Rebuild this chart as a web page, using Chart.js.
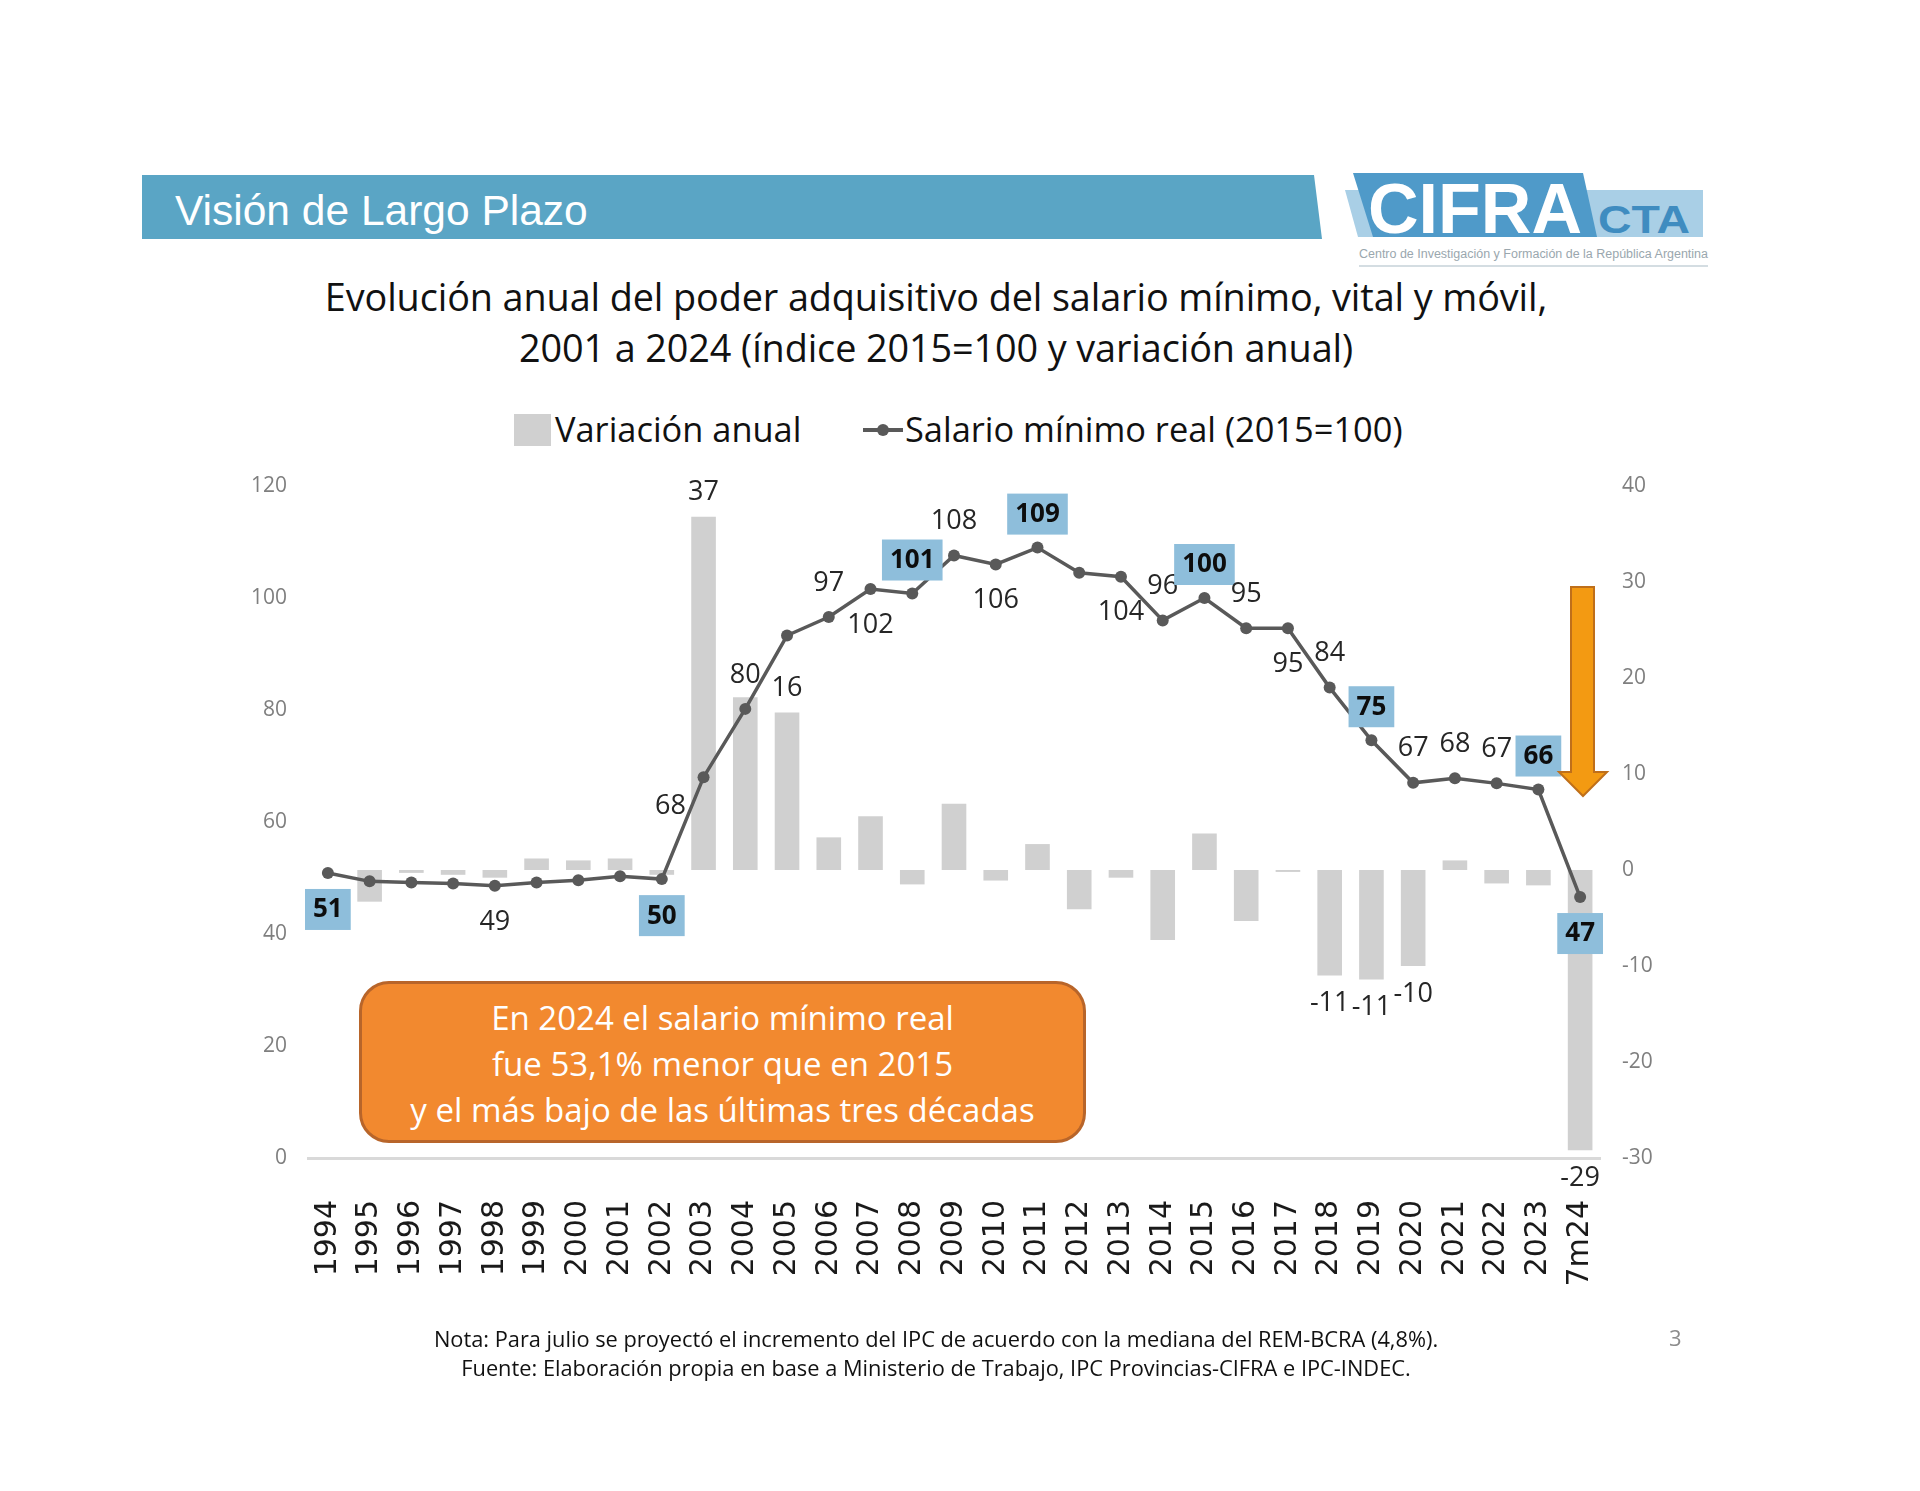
<!DOCTYPE html>
<html><head><meta charset="utf-8">
<script src="https://cdn.jsdelivr.net/npm/chart.js@4.4.1/dist/chart.umd.min.js"></script>
<style>
html,body{margin:0;padding:0;background:#fff;}
body{width:1920px;height:1491px;position:relative;overflow:hidden;font-family:'Open Sans',sans-serif;}
#c{position:absolute;left:0;top:0;}
.abs{position:absolute;}
#band{left:142px;top:175px;width:1180px;height:64px;background:#5AA5C5;clip-path:polygon(0 0,1172px 0,1180px 100%,0 100%);}
#bandText{left:175px;top:187px;font-family:'Liberation Sans',Arial,sans-serif;font-size:42.5px;color:#fff;line-height:48px;}
#title{left:0;top:271px;width:1872px;text-align:center;font-size:37.8px;line-height:51px;color:#111;letter-spacing:-0.1px;}
#legend{left:0;top:404px;width:1920px;height:52px;font-size:34.4px;color:#111;}
#notes{left:0;top:1324px;width:1872px;text-align:center;font-size:21.8px;line-height:29px;color:#111;}
#page{left:1669px;top:1322px;font-size:22px;color:#8c8c8c;}
#box{left:359px;top:981px;width:727px;height:162px;background:#F2892F;border:3px solid #B8652A;border-radius:30px;color:#fff;text-align:center;font-size:33px;line-height:46px;box-sizing:border-box;padding-top:11px;}
</style></head><body>
<div id="band" class="abs"></div>
<div id="bandText" class="abs">Visión de Largo Plazo</div>

<svg class="abs" style="left:1330px;top:165px" width="390" height="110" viewBox="1330 165 390 110">
  <polygon points="1345,190 1703,190 1703,237 1358,237" fill="#A9CFE6"/>
  <polygon points="1353,173 1583,173 1597,237 1373,237" fill="#4F9AC9"/>
  <text x="1368" y="233" font-family="Liberation Sans, Arial, sans-serif" font-weight="bold" font-size="70" fill="#fff" textLength="214" lengthAdjust="spacingAndGlyphs">CIFRA</text>
  <text x="1598" y="233" font-family="Liberation Sans, Arial, sans-serif" font-weight="bold" font-size="38" fill="#3F8CC0" textLength="92" lengthAdjust="spacingAndGlyphs">CTA</text>
  <text x="1359" y="258" font-family="Liberation Sans, Arial, sans-serif" font-size="12" fill="#9aa7ae" textLength="349" lengthAdjust="spacingAndGlyphs">Centro de Investigación y Formación de la República Argentina</text>
  <line x1="1359" y1="266" x2="1708" y2="266" stroke="#d4dde2" stroke-width="2"/>
</svg>

<div id="title" class="abs">Evolución anual del poder adquisitivo del salario mínimo, vital y móvil,<br>2001 a 2024 (índice 2015=100 y variación anual)</div>

<div id="legend" class="abs">
  <div class="abs" style="left:514px;top:10px;width:37px;height:32px;background:#D0D0D0;"></div>
  <div class="abs" style="left:555px;top:0px;line-height:50px;">Variación anual</div>
  <div class="abs" style="left:863px;top:24px;width:40px;height:4px;background:#595959;"></div>
  <div class="abs" style="left:877px;top:20px;width:12px;height:12px;border-radius:50%;background:#595959;"></div>
  <div class="abs" style="left:905px;top:0px;line-height:50px;">Salario mínimo real (2015=100)</div>
</div>

<canvas id="c" width="1920" height="1491" style="width:1920px;height:1491px"></canvas>

<div id="box" class="abs">En 2024 el salario mínimo real<br>fue 53,1% menor que en 2015<br>y el más bajo de las últimas tres décadas</div>

<svg class="abs" style="left:1550px;top:580px" width="70" height="230" viewBox="1550 580 70 230">
  <polygon points="1571,587 1594,587 1594,772 1607,772 1583,796 1559,772 1571,772" fill="#F39A12" stroke="#BF6F1A" stroke-width="2"/>
</svg>

<div id="notes" class="abs">Nota: Para julio se proyectó el incremento del IPC de acuerdo con la mediana del REM-BCRA (4,8%).<br>Fuente: Elaboración propia en base a Ministerio de Trabajo, IPC Provincias-CIFRA e IPC-INDEC.</div>
<div id="page" class="abs">3</div>

<script>
// ---- Data ----
const years = ['1994','1995','1996','1997','1998','1999','2000','2001','2002','2003','2004','2005','2006','2007','2008','2009','2010','2011','2012','2013','2014','2015','2016','2017','2018','2019','2020','2021','2022','2023','7m24'];
const salarioReal = [50.9,49.4,49.2,49.0,48.6,49.2,49.6,50.3,49.8,68.0,80.2,93.3,96.6,101.6,100.8,107.6,106.0,109.0,104.5,103.8,96.0,100.0,94.6,94.6,84.0,74.6,67.0,67.8,66.9,65.8,46.6];
const variacionAnual = [0,-3.3,-0.3,-0.5,-0.8,1.2,1.0,1.2,-0.5,36.8,18.0,16.4,3.4,5.6,-1.5,6.9,-1.1,2.7,-4.1,-0.8,-7.3,3.8,-5.3,-0.2,-11.0,-11.4,-10.0,1.0,-1.4,-1.6,-29.2];
const leftTicks = [0,20,40,60,80,100,120];
const rightTicks = [-30,-20,-10,0,10,20,30,40];

// ---- Label placement (style, not data) ----
const lineLabelPos = ['below',null,null,null,'below',null,null,null,'below','leftbelow','above',null,'above','below','above','above','below','above',null,'below','above','above','above','below','above','above','above','above','above','above','below'];
const lineLabelBoxed = [true,false,false,false,false,false,false,false,true,false,false,false,false,false,true,false,false,true,false,false,false,true,false,false,false,true,false,false,false,true,true];
const barLabelShow = [false,false,false,false,false,false,false,false,false,true,false,true,false,false,false,false,false,false,false,false,false,false,false,false,true,true,true,false,false,false,true];

const labelPlugin = {
  id: 'labels',
  afterDatasetsDraw(chart) {
    const ctx = chart.ctx;
    ctx.save();
    ctx.textAlign = 'center';
    ctx.textBaseline = 'middle';
    const bm = chart.getDatasetMeta(1);
    bm.data.forEach((el, i) => {
      if (!barLabelShow[i]) return;
      const v = variacionAnual[i];
      const y = v >= 0 ? el.y - 24 : el.y + 28;
      ctx.font = '27px "Open Sans"';
      ctx.fillStyle = '#262626';
      ctx.fillText(String(Math.round(v)), el.x, y);
    });
    const lm = chart.getDatasetMeta(0);
    lm.data.forEach((el, i) => {
      const p = lineLabelPos[i];
      if (!p) return;
      let dx = 0, dy = 0;
      if (p === 'above') dy = -34;
      else if (p === 'below') dy = 36;
      else if (p === 'leftbelow') { dx = -33; dy = 29; }
      const t = String(Math.round(salarioReal[i]));
      const x = el.x + dx, y = el.y + dy;
      if (lineLabelBoxed[i]) {
        ctx.font = 'bold 26px "Open Sans"';
        const w = ctx.measureText(t).width + 16;
        ctx.fillStyle = '#8EBEDB';
        ctx.fillRect(x - w / 2, y - 20, w, 41);
        ctx.fillStyle = '#0d0d0d';
        ctx.fillText(t, x, y + 1);
      } else {
        ctx.font = '27px "Open Sans"';
        ctx.fillStyle = '#262626';
        ctx.fillText(t, x, y);
      }
    });
    ctx.restore();
  }
};

new Chart(document.getElementById('c'), {
  type: 'bar',
  data: {
    labels: years,
    datasets: [
      {
        type: 'line', label: 'Salario mínimo real (2015=100)', data: salarioReal, yAxisID: 'y',
        borderColor: '#595959', backgroundColor: '#595959', borderWidth: 3.5,
        pointRadius: 6, pointBackgroundColor: '#595959', pointBorderWidth: 0, tension: 0, order: 0
      },
      {
        type: 'bar', label: 'Variación anual', data: variacionAnual, yAxisID: 'y2',
        backgroundColor: '#D0D0D0', barPercentage: 0.59, categoryPercentage: 1.0, order: 1
      }
    ]
  },
  options: {
    responsive: false, animation: false, devicePixelRatio: 1,
    layout: { padding: { left: 247, right: 259, top: 486, bottom: 183 } },
    plugins: { legend: { display: false }, tooltip: { enabled: false } },
    scales: {
      x: {
        offset: true,
        grid: { display: false, drawTicks: false },
        border: { display: false },
        ticks: { font: { family: 'DejaVu Sans', size: 30 }, color: '#1a1a1a', minRotation: 90, maxRotation: 90, padding: 42, autoSkip: false },
        afterFit(s) { s.height = 150; }
      },
      y: {
        position: 'left', min: 0, max: 120,
        afterBuildTicks(s) { s.ticks = leftTicks.map(v => ({ value: v })); },
        grid: { drawTicks: false, lineWidth: 3, color: c => (c.tick && c.tick.value === 0) ? '#D9D9D9' : 'rgba(0,0,0,0)' },
        border: { display: false },
        ticks: { font: { family: 'Open Sans', size: 21 }, color: '#7F7F7F', padding: 20 },
        afterFit(s) { s.width = 60; }
      },
      y2: {
        position: 'right', min: -30, max: 40,
        afterBuildTicks(s) { s.ticks = rightTicks.map(v => ({ value: v })); },
        grid: { display: false, drawTicks: false },
        border: { display: false },
        ticks: { font: { family: 'Open Sans', size: 21 }, color: '#7F7F7F', padding: 21 },
        afterFit(s) { s.width = 60; }
      }
    }
  },
  plugins: [labelPlugin]
});
</script>
</body></html>
